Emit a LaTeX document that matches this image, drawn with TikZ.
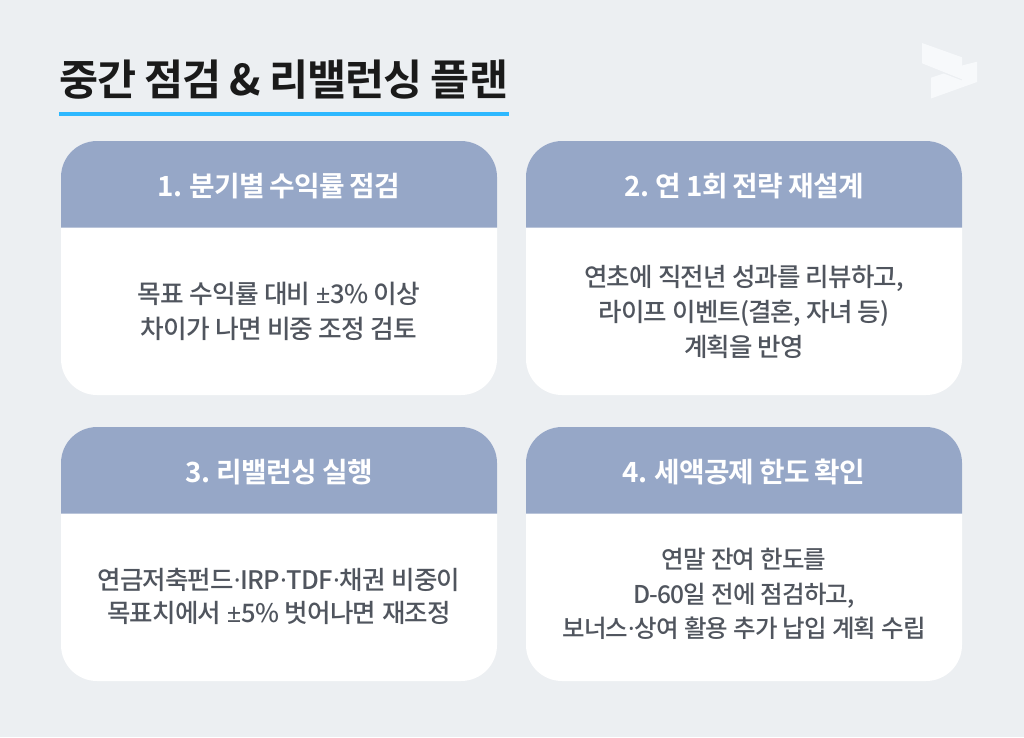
\documentclass[tikz,border=0pt]{standalone}
\usepackage{fontspec}
\setmainfont{Noto Sans CJK KR}
\newfontfamily\bodyA[LetterSpace=-3.5,WordSpace=1.5]{Noto Sans CJK KR Medium}
\newfontfamily\bodyC[LetterSpace=-3.5,WordSpace=2.0]{Noto Sans CJK KR Medium}
\newfontfamily\bodyD[LetterSpace=-3.5,WordSpace=1.1]{Noto Sans CJK KR Medium}
\newfontfamily\headfam[LetterSpace=-2.5,WordSpace=0.9]{Noto Sans CJK KR Bold}
\newfontfamily\titlefam[LetterSpace=-2.0,WordSpace=0.9]{Noto Sans CJK KR Bold}
\newfontfamily\symfam{Noto Sans}
\newcommand{\sy}[1]{{\symfam #1}}
\definecolor{bgc}{HTML}{ECEFF2}
\definecolor{headc}{HTML}{96A7C7}
\definecolor{bodyc}{HTML}{50555E}
\definecolor{titlec}{HTML}{1A1A1A}
\definecolor{linec}{HTML}{2DB8FF}
\definecolor{logoc}{HTML}{F7F9FB}
\tikzset{
 px/.style={x=1pt,y=-1pt},
 bodybase/.style={align=center,text=bodyc,inner sep=0pt},
 bodya/.style={bodybase,font=\bodyA\fontsize{25.7}{35}\selectfont},
 bodyb/.style={bodybase,font=\bodyA\fontsize{25.5}{35}\selectfont},
 bodyc/.style={bodybase,font=\bodyC\fontsize{25.5}{33}\selectfont},
 bodyd/.style={bodybase,font=\bodyD\fontsize{24.5}{34.5}\selectfont},
 headtext/.style={text=white,inner sep=0pt,font=\headfam\fontsize{27.8}{32}\selectfont},
}
\newcommand{\card}[6]{%
 \fill[white,rounded corners=36pt] (#1,#2) rectangle (#1+436,#2+254);
 \fill[headc] (#1,#2+86.5) -- (#1,#2+36) arc[start angle=180,end angle=90,radius=36pt] -- (#1+400,#2) arc[start angle=90,end angle=0,radius=36pt] -- (#1+436,#2+86.5) -- cycle;
 \node[headtext] (h#6) at (#1+218,#2+45) {#3};
 \node[body#6] (b#6) at (#1+218,#2+#5) {#4};
}
\begin{document}
\begin{tikzpicture}[px]
\fill[bgc] (0,0) rectangle (1024,737);
\useasboundingbox (0,0) rectangle (1024,737);
\node[anchor=west,inner sep=0pt,text=titlec,font=\titlefam\fontsize{42.5}{48}\selectfont] (title) at (59,80) {중간 점검 \& 리밸런싱 플랜};
\fill[linec] (59.3,111.7) rectangle (509,115.5);
\card{61}{141}{1. 분기별 수익률 점검}{목표 수익률 대비 \sy{±}3\% 이상\\차이가 나면 비중 조정 검토}{170}{a}
\card{526}{141}{2. 연 1회 전략 재설계}{연초에 직전년 성과를 리뷰하고,\\라이프 이벤트(결혼, 자녀 등)\\계획을 반영}{170.5}{b}
\card{61}{427}{3. 리밸런싱 실행}{연금저축펀드\sy{·}IRP\sy{·}TDF\sy{·}채권 비중이\\목표치에서 \sy{±}5\% 벗어나면 재조정}{169}{c}
\card{526}{427}{4. 세액공제 한도 확인}{연말 잔여 한도를\\D-60일 전에 점검하고,\\보너스\sy{·}상여 활용 추가 납입 계획 수립}{167}{d}
\fill[logoc] (922,43) -- (962,57.3) -- (962,79.3) -- (922,63.3) -- cycle;
\fill[logoc] (931,77.7) -- (943.5,73.5) -- (962,80.5) -- (962,65.5) -- (977,61.7) -- (977,82) -- (931,98.5) -- cycle;
\end{tikzpicture}
\end{document}
